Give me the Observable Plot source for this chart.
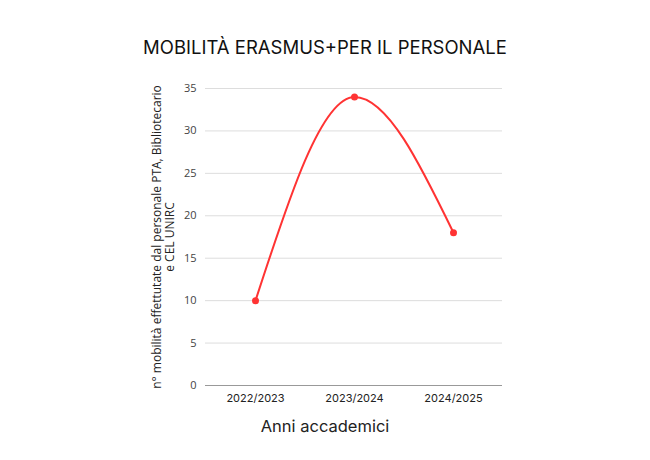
<!DOCTYPE html>
<html>
<head>
<meta charset="utf-8">
<script src="https://cdn.jsdelivr.net/npm/d3@7"></script>
<script src="https://cdn.jsdelivr.net/npm/@observablehq/plot@0.6"></script>
<style>
  body { margin: 0; background: #fff; }
  #wrap { width: 650px; height: 460px; position: relative; }
  #title { height: 70px; line-height: 94px; text-align: center; font-family: Inter, "Noto Sans", sans-serif; font-size: 18.5px; color: #111; }
</style>
</head>
<body>
<div id="wrap">
  <div id="title">MOBILITÀ ERASMUS+PER IL PERSONALE</div>
  <div id="chart"></div>
</div>
<script>
const years = ["2022/2023", "2023/2024", "2024/2025"];
const mobilita = [10, 34, 18];
const yTicks = [0, 5, 10, 15, 20, 25, 30, 35];
const yLabel = "n° mobilità effettutate dal personale PTA, Bibliotecario\ne CEL UNIRC";
const xLabel = "Anni accademici";

const data = years.map((y, i) => ({anno: y, valore: mobilita[i]}));
const red = "#ff3333";

const plot = Plot.plot({
  width: 650,
  height: 390,
  marginLeft: 205,
  marginRight: 148,
  marginTop: 18,
  marginBottom: 75,
  style: {fontFamily: "'Open Sans', sans-serif", fontSize: "11px", color: "#444", background: "#fff"},
  x: {type: "point", domain: years, padding: 0.5, label: null},
  y: {domain: [0, 35], label: null},
  marks: [
    Plot.gridY(yTicks, {stroke: "#ddd", strokeOpacity: 1}),
    Plot.ruleY([0], {stroke: "#999"}),
    Plot.axisY(yTicks, {tickSize: 0, tickPadding: 9, label: null, fontSize: 11, fill: "#444"}),
    Plot.axisX({tickSize: 0, tickPadding: 9, label: null, fontFamily: "Inter, sans-serif", fontSize: 11, fill: "#222"}),
    Plot.text([xLabel], {frameAnchor: "bottom", dx: -29, dy: 46, fontFamily: "Inter, sans-serif", fontSize: 16.5, fill: "#222"}),
    Plot.text([yLabel], {frameAnchor: "left", textAnchor: "middle", rotate: -90, dx: -42, fontSize: 12, fill: "#222", lineHeight: 1.05}),
    Plot.line(data, {x: "anno", y: "valore", stroke: red, strokeWidth: 2, curve: "monotone-x"}),
    Plot.dot(data, {x: "anno", y: "valore", fill: red, r: 3.5})
  ]
});
document.getElementById("chart").appendChild(plot);
</script>
</body>
</html>
